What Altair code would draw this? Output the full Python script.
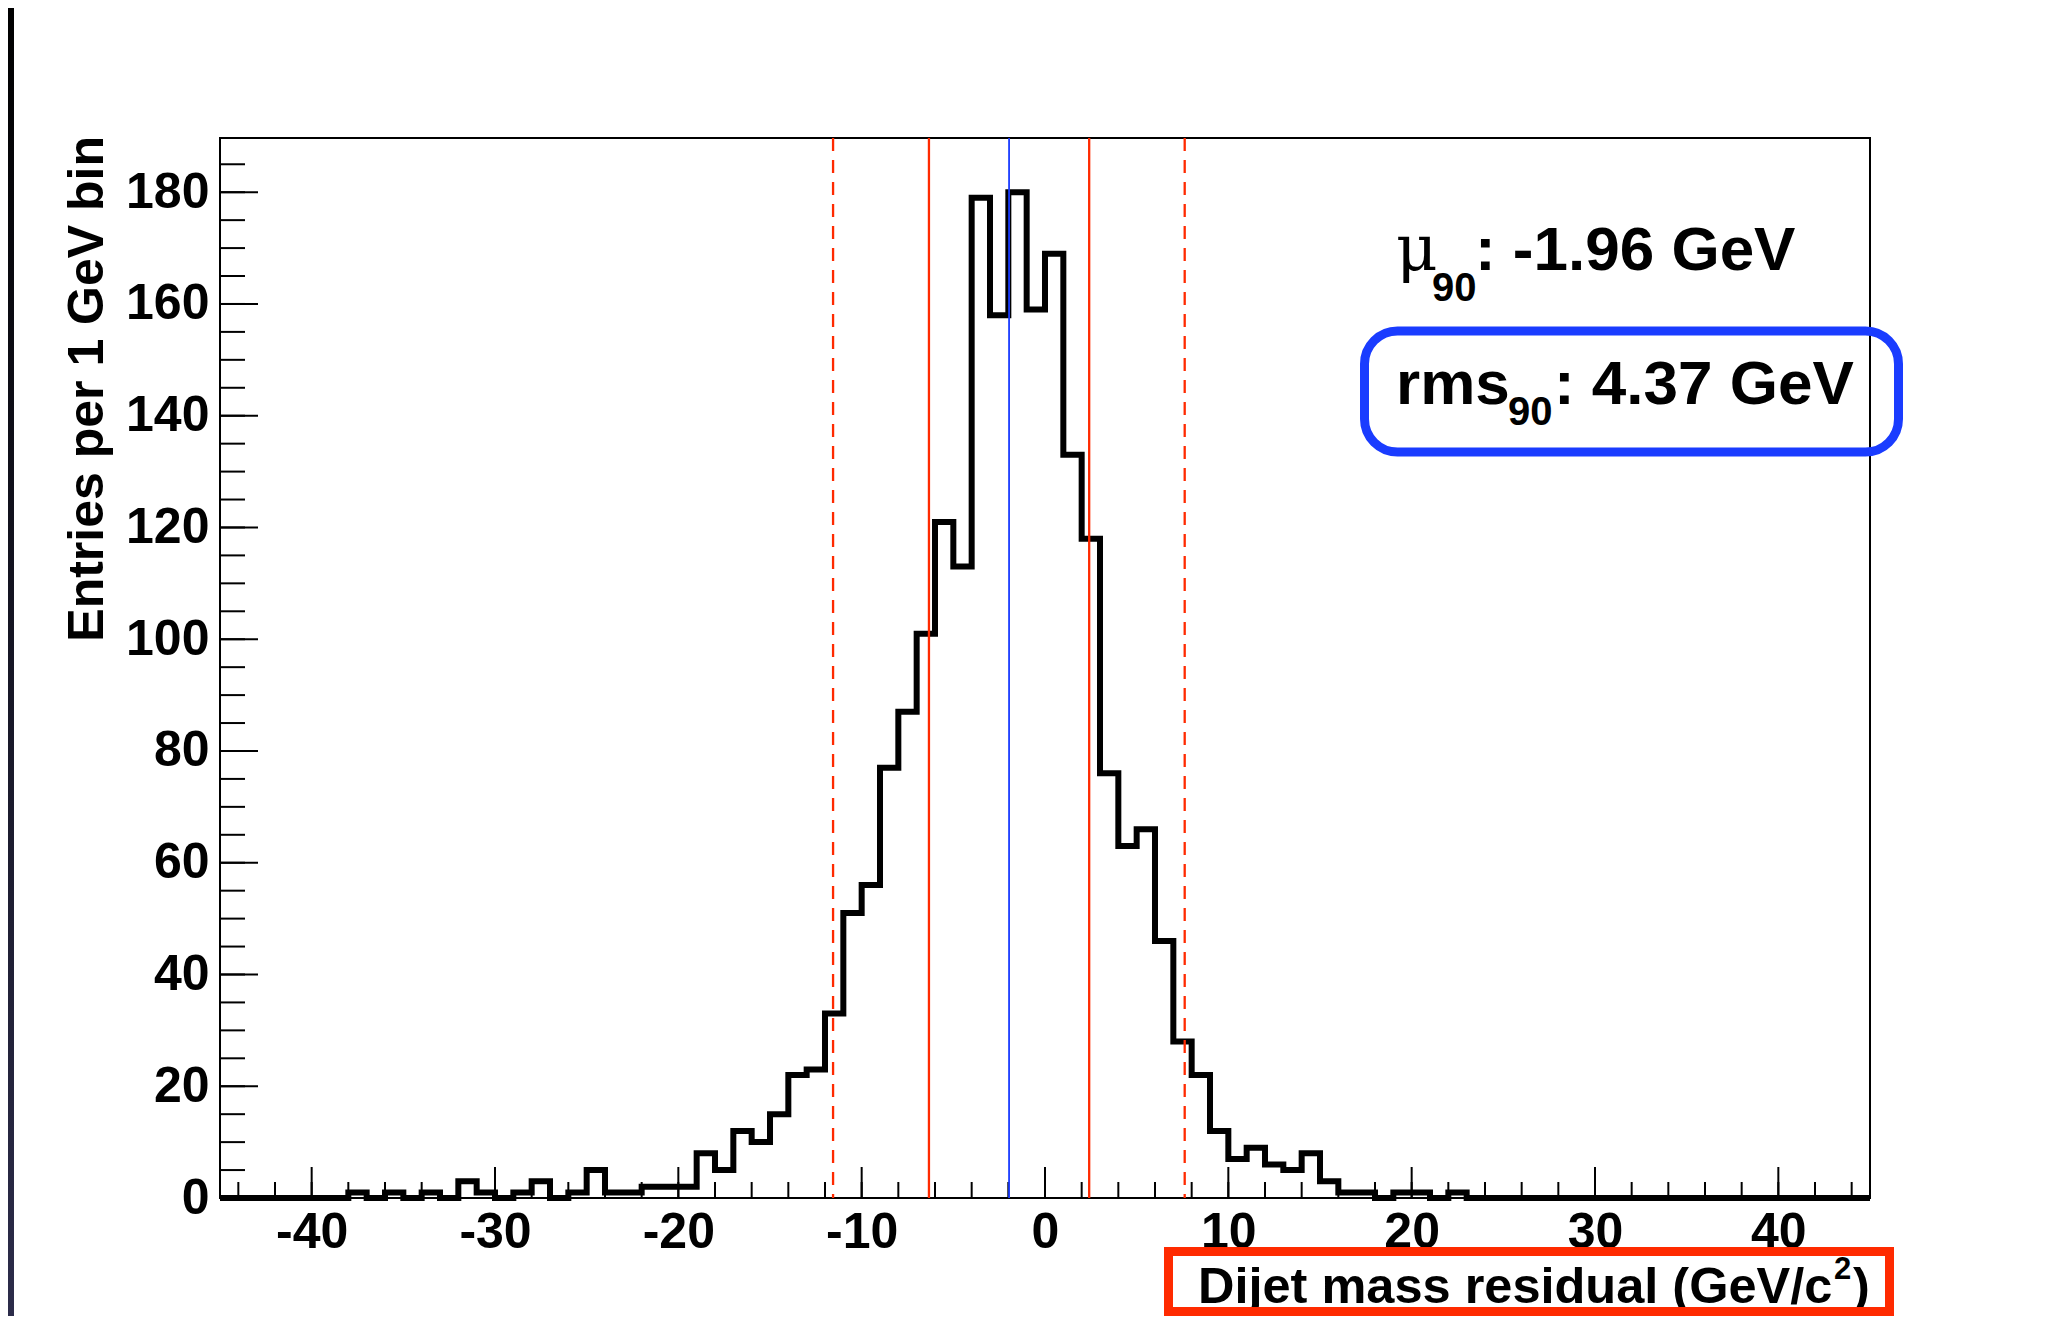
import altair as alt
import pandas as pd

# ---------------- data ----------------
bin_lo = [-45, -44, -43, -42, -41, -40, -39, -38, -37, -36, -35, -34, -33, -32, -31, -30,
          -29, -28, -27, -26, -25, -24, -23, -22, -21, -20, -19, -18, -17, -16, -15, -14,
          -13, -12, -11, -10, -9, -8, -7, -6, -5, -4, -3, -2, -1, 0, 1, 2, 3, 4, 5, 6, 7,
          8, 9, 10, 11, 12, 13, 14, 15, 16, 17, 18, 19, 20, 21, 22, 23, 24, 25, 26, 27, 28,
          29, 30, 31, 32, 33, 34, 35, 36, 37, 38, 39, 40, 41, 42, 43, 44]
counts = [0, 0, 0, 0, 0, 0, 0, 1, 0, 1, 0, 1, 0, 3, 1, 0,
          1, 3, 0, 1, 5, 1, 1, 2, 2, 2, 8, 5, 12, 10, 15, 22,
          23, 33, 51, 56, 77, 87, 101, 121, 113, 179, 158, 180, 159, 169, 133, 118, 76, 63, 66, 46, 28,
          22, 12, 7, 9, 6, 5, 8, 3, 1, 1, 0, 1, 1, 0, 1, 0, 0, 0, 0, 0, 0,
          0, 0, 0, 0, 0, 0, 0, 0, 0, 0, 0, 0, 0, 0, 0, 0]
x_upper_edge = 45

mu90 = -1.96
inner_lines = [-6.33, 2.41]          # solid red
outer_lines = [-11.56, 7.62]         # dashed red

x_label_vals = [-40, -30, -20, -10, 0, 10, 20, 30, 40]
y_label_vals = [0, 20, 40, 60, 80, 100, 120, 140, 160, 180]
x_minor = [-44, -42, -40, -38, -36, -34, -32, -30, -28, -26, -24, -22, -20, -18, -16, -14,
           -12, -10, -8, -6, -4, -2, 0, 2, 4, 6, 8, 10, 12, 14, 16, 18, 20, 22, 24, 26, 28,
           30, 32, 34, 36, 38, 40, 42, 44]
y_minor = [0, 5, 10, 15, 20, 25, 30, 35, 40, 45, 50, 55, 60, 65, 70, 75, 80, 85, 90, 95,
           100, 105, 110, 115, 120, 125, 130, 135, 140, 145, 150, 155, 160, 165, 170, 175,
           180, 185]

x_title_main = "Dijet mass residual (GeV/c"
x_title_sup = "2"
x_title_end = ")"
y_title = "Entries per 1 GeV bin"

# ---------------- layout ----------------
W, H = 1650, 1060
XDOM = [-45, 45]
YDOM = [0, 189.7]
FONT = "Liberation Sans"
RED = "#ff2a00"
BLUE = "#1a3cff"

xs = alt.Scale(domain=XDOM, nice=False, zero=False)
ys = alt.Scale(domain=YDOM, nice=False, zero=False)

edges = bin_lo + [x_upper_edge]
vals = counts + [counts[-1]]
hist_df = pd.DataFrame({"x": edges, "y": vals})

x_axis = alt.Axis(values=x_label_vals, labelExpr="datum.value + ''", ticks=False, tickSize=0,
                  domain=False, grid=False, labelFont=FONT, labelFontSize=50,
                  labelFontWeight="bold", labelColor="black", labelPadding=9,
                  labelFlush=False, labelOverlap=False, title=None)
y_axis = alt.Axis(values=y_label_vals, labelExpr="datum.value + ''", ticks=False, tickSize=0,
                  domain=False, grid=False, labelFont=FONT, labelFontSize=50,
                  labelFontWeight="bold", labelColor="black", labelPadding=11,
                  labelOverlap=False, title=None)

one = pd.DataFrame({"k": [0]})

# left slide strip (gradient)
strip = alt.Chart(one).mark_rect(
    color=alt.Gradient(gradient="linear",
                       stops=[alt.GradientStop(color="#000000", offset=0),
                              alt.GradientStop(color="#2c2c4a", offset=1)],
                       x1=0, x2=0, y1=0, y2=1)
).encode(x=alt.value(-212), x2=alt.value(-206), y=alt.value(-130), y2=alt.value(1178))

hist = alt.Chart(hist_df).mark_line(
    interpolate="step-after", color="black", strokeWidth=6, strokeJoin="miter"
).encode(
    x=alt.X("x:Q", scale=xs, axis=x_axis),
    y=alt.Y("y:Q", scale=ys, axis=y_axis),
)

def tick_layer(vals_, orient, length):
    df = pd.DataFrame({"x": vals_, "y": vals_})
    if orient == "x":
        return alt.Chart(df).mark_rule(color="black", strokeWidth=2).encode(
            x=alt.X("x:Q", scale=xs, axis=x_axis), y=alt.value(H), y2=alt.value(H - length))
    return alt.Chart(df).mark_rule(color="black", strokeWidth=2).encode(
        y=alt.Y("y:Q", scale=ys, axis=y_axis), x=alt.value(0), x2=alt.value(length))

xt_min = tick_layer(x_minor, "x", 16)
xt_maj = tick_layer(x_label_vals, "x", 31)
yt_min = tick_layer(y_minor, "y", 25)
yt_maj = tick_layer(y_label_vals, "y", 38)

def vline(values, color, width, dash=None):
    kw = dict(color=color, strokeWidth=width)
    if dash:
        kw["strokeDash"] = dash
    return alt.Chart(pd.DataFrame({"x": values})).mark_rule(**kw).encode(
        x=alt.X("x:Q", scale=xs, axis=x_axis))

outer = vline(outer_lines, RED, 2.3, [13, 9])
inner = vline(inner_lines, RED, 2.3)
mean = vline([mu90], BLUE, 1.8)

def txt(s, x, y, size, weight="bold", font=FONT, align="left", angle=0):
    return alt.Chart(one).mark_text(
        text=s, font=font, fontSize=size, fontWeight=weight, align=align,
        baseline="alphabetic", color="black", angle=angle
    ).encode(x=alt.value(x), y=alt.value(y))

t_mu = txt("μ", 1176, 132, 64, weight="normal", font="DejaVu Serif")
t_mu_sub = txt("90", 1212, 163, 40)
t_mu_val = txt(": -1.96 GeV", 1255, 132, 62)
t_rms = txt("rms", 1176, 266, 62)
t_rms_sub = txt("90", 1288, 287, 40)
t_rms_val = txt(": 4.37 GeV", 1334, 266, 62)

t_xtitle = txt(x_title_main, 978, 1165, 50.5)
t_xsup = txt(x_title_sup, 1614, 1141, 31)
t_xend = txt(x_title_end, 1633, 1165, 50.5)
t_ytitle = txt(y_title, -117, -2, 50, align="right", angle=270)

blue_box = alt.Chart(one).mark_rect(
    filled=False, stroke=BLUE, strokeWidth=9, cornerRadius=33
).encode(x=alt.value(1144.5), x2=alt.value(1678.5), y=alt.value(193), y2=alt.value(314))

red_box = alt.Chart(one).mark_rect(
    filled=False, stroke=RED, strokeWidth=9
).encode(x=alt.value(948.5), x2=alt.value(1669.5), y=alt.value(1113.5), y2=alt.value(1173.5))

chart = alt.layer(
    strip, hist, xt_min, xt_maj, yt_min, yt_maj, outer, inner, mean,
    t_mu, t_mu_sub, t_mu_val, t_rms, t_rms_sub, t_rms_val,
    t_xtitle, t_xsup, t_xend, t_ytitle, blue_box, red_box
).properties(
    width=W, height=H,
    padding={"left": 212, "top": 130, "right": 191, "bottom": 118},
    autosize=alt.AutoSizeParams(type="none"),
    background="white",
).configure_view(stroke="black", strokeWidth=2)

chart.save("out.html", embed_options={"renderer": "svg", "actions": False})
